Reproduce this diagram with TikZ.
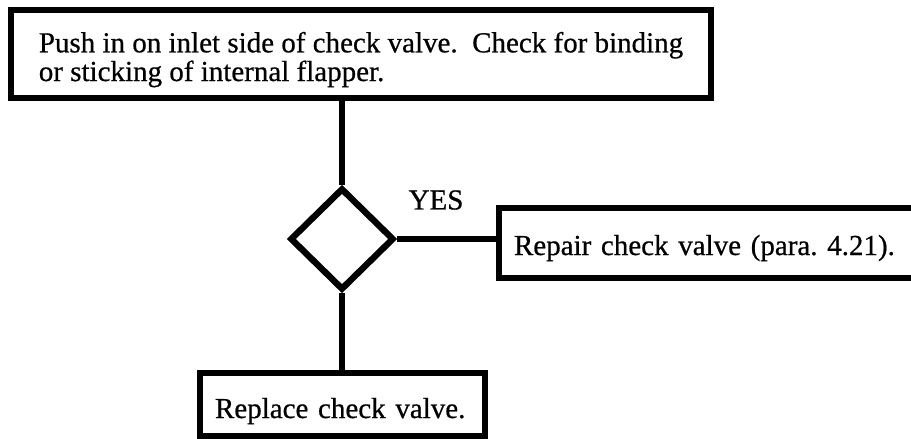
\documentclass[tikz,border=0pt]{standalone}
\usepackage{fontspec}
\setmainfont{Liberation Serif}
\usetikzlibrary{shapes.geometric}

\begin{document}
\frenchspacing
\begin{tikzpicture}[x=0.5pt,y=-0.5pt,
    every node/.style={font=\fontsize{14.5pt}{12pt}\selectfont\addfontfeatures{FakeBold=0.6}},
    box/.style={draw,line width=3.2pt,align=left,inner ysep=0pt},
    ln/.style={line width=2.8pt}]
  \useasboundingbox (0,0) rectangle (911,439);
  \fill[white] (0,0) rectangle (911,439);
  \clip (0,0) rectangle (911,439);
  \node[box, minimum width=350pt, minimum height=44pt, inner xsep=10pt,
        text height=30.2pt, text depth=3.2pt]
    (push) at (361,54)
    {Push in on inlet side of check valve.\ \ Check for binding\\
     or sticking of internal flapper.};
  \node[draw, diamond, line width=3.2pt, minimum width=52pt,
        minimum height=51pt, inner sep=0pt]
    (chk) at (342,239) {};
  \node (yes) at (436,200) {YES};
  \node[box, minimum height=35pt, inner xsep=7.5pt, text width=215.5pt,
        text height=15.5pt, text depth=3.5pt]
    (fix) at (729.5,243)
    {Repair check valve (para. 4.21).};
  \node[box, minimum height=31.5pt, inner xsep=7.5pt, text width=127.5pt,
        text height=17pt, text depth=3.5pt]
    (repl) at (342.5,404.5)
    {Replace check valve.};
  \draw[ln] (push.south -| chk.north) -- (chk.north);
  \draw[ln] (chk.east) -- (chk.east -| fix.west);
  \draw[ln] (chk.south) -- (chk.south |- repl.north);
\end{tikzpicture}
\end{document}
